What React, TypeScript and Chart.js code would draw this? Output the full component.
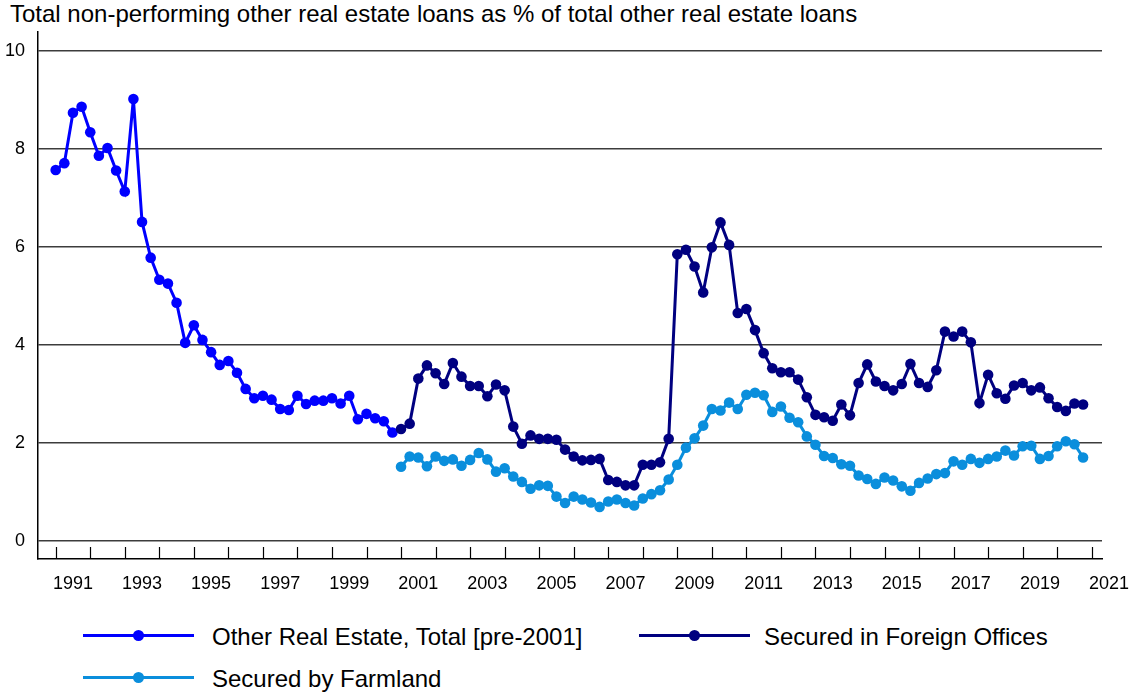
import React, { useEffect, useRef } from "react";
import { Chart, registerables } from "chart.js";

Chart.register(...registerables);

// ---- DATA ----
const TITLE = "Total non-performing other real estate loans as % of total other real estate loans";
const FIRST_QUARTER_YEAR = 1991; // first plotted quarter sits on the 1991 tick
const QUARTER = 0.25;

// Other Real Estate, Total [pre-2001] (quarters 0..39)
const otherRealEstateTotal = [
  7.57, 7.71, 8.74, 8.86, 8.34, 7.86, 8.02, 7.56, 7.13, 9.02,
  6.51, 5.78, 5.33, 5.25, 4.86, 4.04, 4.40, 4.10, 3.85, 3.59,
  3.67, 3.43, 3.10, 2.91, 2.96, 2.88, 2.69, 2.67, 2.96, 2.79,
  2.86, 2.86, 2.91, 2.80, 2.96, 2.48, 2.59, 2.50, 2.44, 2.21,
];

const LATER_START_INDEX = 40;

// Secured in Foreign Offices (quarters 40..119)
const securedForeignOffices = [
  2.28, 2.39, 3.31, 3.58, 3.42, 3.20, 3.63, 3.35, 3.16, 3.16,
  2.95, 3.19, 3.07, 2.33, 1.98, 2.15, 2.08, 2.08, 2.06, 1.86,
  1.72, 1.64, 1.65, 1.67, 1.24, 1.20, 1.13, 1.13, 1.55, 1.55,
  1.60, 2.08, 5.85, 5.94, 5.60, 5.07, 5.99, 6.50, 6.04, 4.65,
  4.73, 4.30, 3.83, 3.52, 3.44, 3.44, 3.29, 2.93, 2.57, 2.52,
  2.45, 2.78, 2.56, 3.22, 3.60, 3.25, 3.16, 3.07, 3.20, 3.61,
  3.22, 3.14, 3.48, 4.27, 4.17, 4.27, 4.05, 2.81, 3.39, 3.01,
  2.90, 3.17, 3.22, 3.07, 3.13, 2.91, 2.73, 2.65, 2.80, 2.78,
];

// Secured by Farmland (quarters 40..119)
const securedFarmland = [
  1.51, 1.72, 1.70, 1.52, 1.72, 1.63, 1.66, 1.53, 1.65, 1.79,
  1.66, 1.41, 1.48, 1.31, 1.20, 1.06, 1.13, 1.12, 0.90, 0.77,
  0.90, 0.84, 0.78, 0.69, 0.80, 0.84, 0.77, 0.72, 0.86, 0.95,
  1.03, 1.25, 1.55, 1.90, 2.09, 2.35, 2.69, 2.66, 2.82, 2.69,
  2.98, 3.02, 2.97, 2.63, 2.74, 2.51, 2.42, 2.13, 1.96, 1.73,
  1.69, 1.56, 1.53, 1.33, 1.26, 1.16, 1.29, 1.23, 1.11, 1.02,
  1.18, 1.27, 1.36, 1.38, 1.62, 1.55, 1.67, 1.59, 1.67, 1.72,
  1.84, 1.74, 1.93, 1.94, 1.67, 1.73, 1.93, 2.03, 1.97, 1.70,
];

const yTickValues = [0, 2, 4, 6, 8, 10];
const xTickYears = [
  1991, 1992, 1993, 1994, 1995, 1996, 1997, 1998, 1999, 2000, 2001,
  2002, 2003, 2004, 2005, 2006, 2007, 2008, 2009, 2010, 2011,
  2012, 2013, 2014, 2015, 2016, 2017, 2018, 2019, 2020, 2021,
];
const xLabelYears = [1991, 1993, 1995, 1997, 1999, 2001, 2003, 2005, 2007, 2009, 2011, 2013, 2015, 2017, 2019, 2021];

const seriesNames = [
  "Other Real Estate, Total [pre-2001]",
  "Secured in Foreign Offices",
  "Secured by Farmland",
];
const seriesColors = ["#0000ff", "#000080", "#0a8edc"];

// ---- STYLE ----
const FONT = '"Liberation Sans", Arial, Helvetica, sans-serif';
const X_MIN = 1990.4874;
const X_MAX = 2021.298;
const Y_MIN = -0.374;
const Y_MAX = 10.388;

function toPoints(values: number[], startIndex: number) {
  return values.map((v, i) => ({ x: FIRST_QUARTER_YEAR + (startIndex + i) * QUARTER, y: v }));
}

const xAxisDecor = {
  id: "xAxisDecor",
  afterDraw(chart: any) {
    const { ctx, chartArea, scales } = chart;
    const x = scales.x;
    ctx.save();
    ctx.strokeStyle = "#000";
    ctx.lineWidth = 1.2;
    for (const yr of xTickYears) {
      const px = Math.round(x.getPixelForValue(yr)) + 0.5;
      ctx.beginPath();
      ctx.moveTo(px, chartArea.bottom);
      ctx.lineTo(px, chartArea.bottom - 12);
      ctx.stroke();
    }
    ctx.fillStyle = "#000";
    ctx.font = `18px ${FONT}`;
    ctx.textAlign = "center";
    ctx.textBaseline = "alphabetic";
    for (const yr of xLabelYears) {
      ctx.fillText(String(yr), x.getPixelForValue(yr + 0.5), chartArea.bottom + 29.5);
    }
    ctx.restore();
  },
};

export default function App() {
  const canvasRef = useRef<HTMLCanvasElement | null>(null);

  useEffect(() => {
    document.body.style.margin = "0";
    const canvas = canvasRef.current;
    if (!canvas) return;
    const makeDs = (label: string, color: string, data: any[], order: number) => ({
      label,
      data,
      borderColor: color,
      backgroundColor: color,
      pointBackgroundColor: color,
      pointBorderColor: color,
      borderWidth: 3,
      pointRadius: 5.3,
      pointHoverRadius: 5.3,
      pointBorderWidth: 0,
      tension: 0,
      fill: false,
      order,
    });
    const chart = new Chart(canvas, {
      type: "line",
      data: {
        datasets: [
          makeDs(seriesNames[0], seriesColors[0], toPoints(otherRealEstateTotal, 0), 1),
          makeDs(seriesNames[1], seriesColors[1], toPoints(securedForeignOffices, LATER_START_INDEX), 0),
          makeDs(seriesNames[2], seriesColors[2], toPoints(securedFarmland, LATER_START_INDEX), 2),
        ],
      },
      options: {
        animation: false,
        responsive: false,
        devicePixelRatio: 1,
        layout: { padding: { left: 0, top: 32, right: 30, bottom: 0 } },
        plugins: {
          legend: { display: false },
          title: { display: false },
          tooltip: { enabled: false },
        },
        scales: {
          x: {
            type: "linear",
            position: "bottom",
            min: X_MIN,
            max: X_MAX,
            grid: { display: false },
            border: { display: true, color: "#000", width: 1.5 },
            ticks: { display: false },
            afterFit: (scale: any) => {
              scale.height = 41;
            },
          },
          y: {
            type: "linear",
            position: "left",
            min: Y_MIN,
            max: Y_MAX,
            afterBuildTicks: (scale: any) => {
              scale.ticks = yTickValues.map((v) => ({ value: v }));
            },
            afterFit: (scale: any) => {
              scale.width = 38;
            },
            grid: { color: "#3c3c3c", lineWidth: 1.6, drawTicks: false },
            border: { display: true, color: "#000", width: 1.5 },
            ticks: {
              color: "#000",
              font: { family: FONT, size: 18 },
              padding: 13,
            },
          },
        },
      },
      plugins: [xAxisDecor],
    } as any);
    return () => chart.destroy();
  }, []);

  const legendRow = (name: string, color: string, lineLeft: number, textLeft: number, centerY: number) => (
    <div key={name}>
      <div
        style={{
          position: "absolute",
          left: lineLeft,
          top: centerY - 1.5,
          width: 111,
          height: 3,
          background: color,
        }}
      />
      <div
        style={{
          position: "absolute",
          left: lineLeft + 55.5 - 5.5,
          top: centerY - 5.5,
          width: 11,
          height: 11,
          borderRadius: "50%",
          background: color,
        }}
      />
      <div
        style={{
          position: "absolute",
          left: textLeft,
          top: centerY - 10.5,
          fontFamily: FONT,
          fontSize: 24,
          lineHeight: "24px",
          color: "#000",
          whiteSpace: "nowrap",
        }}
      >
        {name}
      </div>
    </div>
  );

  return (
    <div style={{ position: "relative", width: 1132, height: 694, background: "#fff", overflow: "hidden" }}>
      <div
        style={{
          position: "absolute",
          left: 10,
          top: 2,
          fontFamily: FONT,
          fontSize: 24,
          lineHeight: "24px",
          color: "#000",
          whiteSpace: "nowrap",
        }}
      >
        {TITLE}
      </div>
      <canvas ref={canvasRef} width={1132} height={600} style={{ position: "absolute", left: 0, top: 0, width: 1132, height: 600 }} />
      {legendRow(seriesNames[0], seriesColors[0], 83, 212, 635)}
      {legendRow(seriesNames[1], seriesColors[1], 639, 764, 635)}
      {legendRow(seriesNames[2], seriesColors[2], 83, 212, 677)}
    </div>
  );
}
